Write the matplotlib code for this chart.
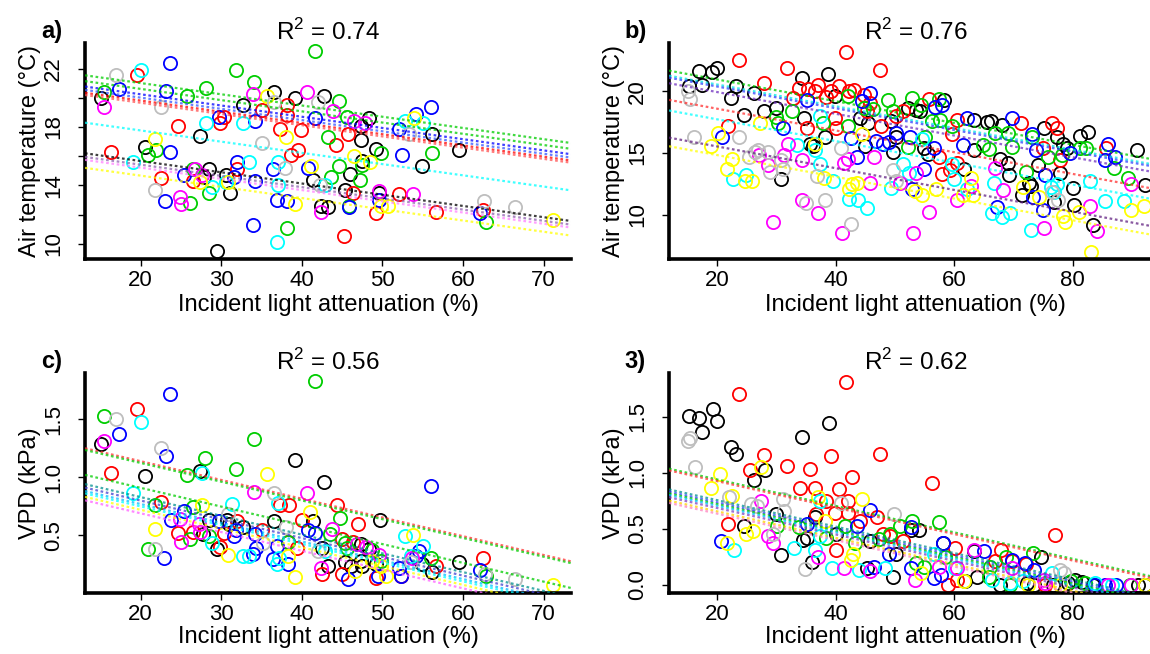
import matplotlib
matplotlib.use("Agg")
import matplotlib.pyplot as plt

plt.rcParams["font.family"] = ["Liberation Sans", "DejaVu Sans"]
plt.rcParams["mathtext.fontset"] = "custom"
plt.rcParams["mathtext.rm"] = "Liberation Sans"

# site colours (R classic palette)
cols = {
    "black": "#000000", "red": "#FF0000", "green": "#00CD00", "blue": "#0000FF",
    "cyan": "#00FFFF", "magenta": "#FF00FF", "yellow": "#FFFF00", "gray": "#BEBEBE",
}

# ---- a) air temperature vs light attenuation, first campaign
a_black = [(15.1, 20.0), (20.6, 16.6), (27.4, 17.4), (28.5, 15.1), (27.9, 14.6), (29.5, 9.5), (30.6, 14.7),
           (31.1, 13.5), (32.7, 19.5), (36.6, 20.4), (39.2, 20.0), (41.4, 14.4), (42.8, 20.1), (42.4, 12.6),
           (43.3, 12.5), (45.3, 13.7), (46.0, 14.8), (47.3, 18.1), (47.4, 17.1), (47.5, 15.7), (48.3, 18.6),
           (49.2, 16.5), (49.6, 13.5), (54.9, 15.3), (56.2, 17.5), (59.5, 16.4)]
a_red = [(16.3, 16.3), (19.5, 21.6), (24.6, 18.1), (22.5, 14.5), (26.5, 14.3), (29.8, 18.3), (30.3, 18.7),
         (32.0, 15.1), (35.1, 19.2), (37.3, 17.9), (38.2, 19.5), (38.2, 18.8), (38.6, 16.1), (39.5, 16.4),
         (39.9, 17.8), (44.3, 16.8), (45.7, 17.5), (46.3, 13.5), (45.2, 10.5), (49.2, 12.1), (52.1, 13.4),
         (56.7, 12.2), (62.5, 12.3)]
a_green = [(15.5, 20.4), (20.9, 16.1), (21.9, 16.4), (25.8, 20.1), (26.1, 12.8), (26.5, 15.1), (28.1, 20.7),
           (28.5, 13.5), (31.8, 21.9), (34.1, 21.1), (38.2, 11.1), (41.6, 23.2), (43.3, 17.3), (43.6, 14.6),
           (44.6, 19.8), (44.6, 15.3), (45.6, 18.7), (45.8, 12.6), (47.2, 14.4), (47.5, 15.4), (49.8, 16.2),
           (56.2, 16.2), (62.9, 11.5)]
a_blue = [(17.3, 20.6), (23.2, 20.5), (23.7, 22.4), (23.7, 16.3), (23.0, 12.9), (25.4, 14.7), (29.7, 18.7),
          (31.6, 14.6), (32.0, 15.6), (34.2, 18.4), (34.2, 14.3), (34.0, 11.3), (36.4, 15.1), (36.9, 13.0),
          (38.2, 12.9), (40.8, 15.2), (41.7, 18.6), (45.8, 12.5), (52.0, 17.9), (52.4, 16.1), (54.2, 18.9),
          (56.0, 19.4), (62.1, 12.1), (49.6, 13.0)]
a_cyan = [(20.0, 21.9), (19.1, 15.6), (28.1, 18.3), (28.8, 13.9), (32.7, 18.3), (33.4, 15.6), (37.0, 15.6),
          (37.0, 14.0), (36.9, 10.1), (42.9, 14.0), (52.8, 18.4), (55.1, 18.3), (30.6, 14.2)]
a_magenta = [(15.5, 19.4), (24.9, 13.2), (25.0, 12.7), (26.8, 15.1), (27.6, 14.7), (34.0, 20.3), (40.6, 20.4),
             (43.9, 19.1), (42.4, 12.2), (46.5, 18.4), (47.9, 18.3), (49.6, 13.6), (53.8, 13.4)]
a_yellow = [(21.8, 17.2), (27.4, 14.2), (30.9, 14.2), (35.7, 20.1), (38.1, 17.3), (39.2, 12.7), (41.2, 15.3),
            (46.5, 16.0), (48.5, 15.6), (49.8, 12.6), (50.7, 12.6), (53.9, 18.6), (71.2, 11.6)]
a_gray = [(17.0, 21.6), (22.5, 19.4), (21.8, 13.7), (35.1, 16.9), (36.6, 19.7), (37.9, 15.2), (42.0, 19.7),
          (42.3, 14.0), (53.3, 17.5), (62.6, 12.9), (66.4, 12.5)]
# fitted lines: colour, value at left edge of x range
a_lines = [("#00CD00", 21.55), ("#00CD00", 21.15), ("#0000FF", 20.78), ("#3355FF", 20.55), ("#FF0000", 20.35),
           ("#FF5050", 20.2), ("#00FFFF", 18.3), ("#000000", 16.2), ("#9060B0", 15.95), ("#FF80FF", 15.75),
           ("#FFFF00", 15.2)]
a_slope = -0.077

# ---- b) air temperature, second campaign
b_black = [(15.2, 20.46), (16.9, 21.6), (17.3, 20.5), (19.1, 21.55), (19.9, 21.9), (22.2, 19.46), (23.1, 20.46),
           (24.4, 18.07), (26.2, 19.87), (27.9, 18.4), (29.9, 18.66), (30.8, 12.9), (34.2, 21.1), (34.6, 17.8),
           (35.7, 15.76), (36.2, 15.6), (38.7, 21.4), (38.2, 16.25), (39.9, 19.6), (44.0, 17.8), (45.0, 15.6),
           (45.5, 17.45), (49.4, 17.6), (50.1, 16.25), (49.7, 15.04), (52.2, 18.66), (53.6, 18.5), (54.3, 18.4),
           (55.5, 14.9), (54.9, 15.4), (58.2, 19.25), (61.7, 13.7), (63.3, 15.2), (63.4, 17.7), (65.6, 17.5),
           (66.2, 17.6), (67.7, 14.5), (68.0, 17.3), (69.1, 14.2), (69.2, 13.2), (71.4, 11.55), (72.7, 12.6),
           (73.0, 12.35), (74.1, 14.0), (75.2, 17.0), (76.8, 11.0), (77.4, 16.25), (77.9, 13.4), (78.4, 15.7),
           (79.0, 15.4), (80.1, 12.17), (80.3, 10.8), (81.3, 16.4), (82.6, 16.7), (83.4, 9.14), (90.9, 15.2),
           (92.3, 12.36)]
b_red = [(21.8, 17.2), (23.6, 22.5), (27.9, 20.7), (31.8, 21.9), (32.7, 19.46), (33.8, 20.3), (35.1, 17.0),
         (35.3, 20.2), (36.5, 20.0), (37.0, 20.5), (38.4, 19.5), (39.2, 20.05), (39.8, 17.8), (40.1, 17.0),
         (40.6, 20.4), (41.7, 23.2), (42.3, 20.05), (43.0, 20.1), (44.7, 19.7), (45.2, 18.4), (45.8, 19.06),
         (47.5, 21.7), (47.7, 17.2), (50.2, 18.0), (51.4, 18.4), (55.8, 19.4), (57.4, 14.7), (58.0, 13.3),
         (59.3, 13.6), (59.6, 16.5), (60.4, 17.7), (60.4, 14.2), (71.3, 17.4), (75.0, 15.4), (76.5, 17.4),
         (77.4, 17.0), (77.9, 14.4), (85.6, 15.4)]
b_green = [(29.9, 17.9), (30.2, 17.4), (32.6, 18.4), (37.8, 17.4), (42.0, 19.6), (42.0, 17.2), (44.7, 18.66),
           (46.3, 18.6), (48.8, 19.25), (49.6, 18.4), (52.2, 15.5), (52.9, 19.46), (54.4, 18.9), (55.0, 16.3),
           (56.2, 17.6), (57.4, 19.4), (57.6, 17.7), (59.6, 17.2), (64.8, 15.65), (65.9, 15.3), (66.9, 16.65),
           (69.1, 16.65), (69.7, 15.5), (72.2, 13.43), (73.1, 16.3), (75.8, 14.7), (78.2, 14.8), (81.3, 15.4),
           (82.3, 15.4), (87.0, 13.75), (89.3, 13.0)]
b_blue = [(20.8, 16.25), (31.0, 17.0), (35.2, 19.25), (42.5, 16.2), (43.6, 14.7), (44.5, 19.2), (45.8, 19.87),
          (46.7, 16.0), (48.0, 15.7), (48.9, 15.85), (50.2, 16.65), (52.6, 16.25), (52.9, 12.1), (54.9, 13.7),
          (56.5, 15.4), (56.8, 18.7), (58.0, 18.9), (61.5, 15.65), (62.1, 17.85), (67.3, 10.6), (69.7, 17.8),
          (73.1, 16.5), (73.8, 15.2), (75.3, 13.24), (75.0, 10.35), (79.6, 14.96), (85.4, 14.4), (86.0, 15.7),
          (87.2, 14.7), (73.3, 11.4)]
b_cyan = [(22.7, 12.9), (24.9, 13.24), (33.5, 15.65), (36.4, 15.2), (37.3, 18.0), (37.3, 14.1), (39.5, 12.76),
          (42.3, 11.23), (43.8, 11.15), (45.2, 10.56), (49.4, 12.17), (51.4, 14.1), (52.4, 13.35), (54.6, 16.1),
          (59.9, 12.9), (62.1, 12.1), (66.4, 10.13), (66.7, 12.6), (68.1, 9.8), (69.4, 10.13), (72.9, 8.74),
          (76.3, 12.2), (77.4, 12.5), (82.9, 12.76), (85.4, 11.1), (88.7, 11.1), (76.8, 11.8), (59.7, 14.1)]
b_magenta = [(31.9, 15.76), (31.2, 14.85), (34.2, 11.2), (34.3, 14.4), (37.0, 10.13), (29.3, 9.4), (27.0, 14.8),
             (28.6, 14.0), (41.4, 14.15), (41.1, 8.47), (42.0, 14.5), (45.8, 12.6), (46.4, 14.7), (50.8, 12.55),
             (53.0, 8.47), (53.6, 13.35), (55.8, 10.2), (60.4, 11.2), (62.8, 12.3), (66.9, 13.8), (68.3, 12.0),
             (75.2, 8.95), (82.9, 10.7), (84.2, 8.7), (89.8, 12.5)]
b_yellow = [(20.1, 16.65), (18.9, 15.6), (21.6, 13.7), (22.4, 14.5), (24.7, 12.76), (25.8, 12.76), (27.2, 17.4),
            (36.4, 15.7), (38.0, 13.0), (42.3, 12.1), (42.8, 12.5), (43.6, 12.6), (44.5, 16.5), (53.3, 11.95),
            (54.5, 11.6), (57.0, 12.1), (61.5, 11.6), (63.1, 11.55), (62.9, 13.0), (71.6, 12.2), (74.3, 11.4),
            (78.4, 9.87), (78.7, 9.4), (81.0, 10.2), (83.1, 6.94), (89.8, 10.4), (92.0, 10.67)]
b_gray = [(15.1, 20.0), (15.3, 19.33), (16.1, 16.25), (23.6, 16.25), (25.3, 14.7), (26.3, 15.1), (26.9, 15.2),
          (28.5, 15.1), (28.8, 13.43), (30.7, 14.4), (31.0, 13.7), (35.0, 10.9), (36.8, 13.1), (38.2, 11.2),
          (40.8, 15.4), (42.6, 9.2), (49.6, 13.6), (50.1, 12.7), (76.6, 11.8), (77.5, 11.2)]
b_lines = [("#00CD00", 21.67), ("#00E5E5", 21.26), ("#3040FF", 21.1), ("#7030C0", 20.65), ("#FF3030", 19.3),
           ("#00FFFF", 18.44), ("#602080", 16.24), ("#FFFF00", 15.54)]
b_slope = -0.088

# ---- c) vapour pressure deficit, first campaign
c_black = [(15.1, 1.29), (20.6, 1.01), (27.4, 1.05), (27.8, 0.51), (28.5, 0.63), (29.5, 0.38), (30.7, 0.63),
           (31.0, 0.60), (32.7, 0.57), (36.6, 0.62), (39.2, 1.15), (41.4, 0.62), (42.8, 0.96), (42.5, 0.39),
           (43.3, 0.23), (45.3, 0.27), (46.1, 0.23), (47.3, 0.42), (47.4, 0.28), (47.5, 0.23), (48.3, 0.38),
           (49.2, 0.25), (49.7, 0.63), (54.9, 0.25), (56.2, 0.18), (59.5, 0.27)]
c_red = [(16.3, 1.04), (19.5, 1.59), (22.5, 0.79), (24.6, 0.52), (26.5, 0.53), (29.8, 0.40), (30.3, 0.52),
         (32.0, 0.62), (35.1, 0.54), (37.3, 0.76), (38.4, 0.76), (38.3, 0.44), (39.4, 0.39), (40.0, 0.63),
         (42.5, 0.16), (44.4, 0.76), (45.0, 0.47), (47.0, 0.60), (45.0, 0.16), (49.2, 0.13), (52.3, 0.15),
         (56.7, 0.23), (62.5, 0.30), (46.3, 0.44)]
c_green = [(15.5, 1.53), (20.9, 0.38), (21.8, 0.76), (25.8, 1.02), (26.1, 0.47), (26.5, 0.74), (28.0, 1.17),
           (28.5, 0.49), (31.8, 1.07), (34.1, 1.33), (38.3, 0.44), (41.6, 1.83), (43.5, 0.51), (44.7, 0.65),
           (45.3, 0.43), (45.6, 0.39), (48.7, 0.37), (49.8, 0.28), (56.0, 0.30), (62.9, 0.15)]
c_blue = [(17.3, 1.37), (23.2, 1.18), (23.7, 1.72), (23.8, 0.63), (22.9, 0.30), (25.4, 0.71), (29.7, 0.62),
          (31.6, 0.49), (31.8, 0.54), (34.2, 0.51), (34.3, 0.39), (34.0, 0.34), (36.4, 0.29), (36.9, 0.41),
          (38.3, 0.25), (40.8, 0.54), (41.7, 0.52), (45.7, 0.12), (52.1, 0.22), (52.3, 0.15), (54.2, 0.32),
          (54.5, 0.36), (56.0, 0.92), (62.1, 0.20), (49.5, 0.15)]
c_cyan = [(20.0, 1.48), (19.1, 0.86), (27.6, 1.04), (28.8, 0.43), (31.3, 0.77), (32.7, 0.32), (33.5, 0.32),
          (37.0, 0.78), (36.9, 0.25), (37.2, 0.30), (42.9, 0.36), (52.8, 0.49), (55.1, 0.41), (53.5, 0.32)]
c_magenta = [(15.5, 1.31), (24.9, 0.64), (25.0, 0.44), (27.2, 0.60), (27.4, 0.53), (34.1, 0.87), (40.6, 0.86),
             (43.8, 0.55), (42.4, 0.22), (46.8, 0.42), (48.0, 0.40), (53.7, 0.30), (49.6, 0.33)]
c_yellow = [(21.8, 0.55), (27.6, 0.76), (30.9, 0.33), (35.7, 1.03), (38.3, 0.32), (39.2, 0.14), (41.0, 0.70),
            (46.6, 0.19), (48.7, 0.28), (50.5, 0.15), (53.8, 0.50), (71.2, 0.07), (49.8, 0.23)]
c_gray = [(17.0, 1.50), (22.5, 1.25), (21.8, 0.38), (35.2, 0.43), (36.6, 0.86), (38.1, 0.57), (42.0, 0.36),
          (53.5, 0.27), (62.7, 0.16), (66.4, 0.12), (30.9, 0.68)]
c_lines = [("#FF3030", 1.25), ("#00CD00", 1.235), ("#00CD00", 1.02), ("#009090", 0.94), ("#4040D0", 0.91),
           ("#00BFFF", 0.88), ("#00FFFF", 0.86), ("#FFFF00", 0.83), ("#FF60FF", 0.80)]
c_slope = -0.0162

# ---- d) vapour pressure deficit, second campaign
d_black = [(15.2, 1.51), (16.9, 1.49), (17.3, 1.36), (19.2, 1.57), (19.9, 1.46), (22.2, 1.23), (23.1, 1.17),
           (24.4, 0.52), (26.2, 0.93), (28.0, 1.02), (29.9, 0.63), (30.8, 0.26), (34.2, 1.32), (34.5, 0.40),
           (35.1, 0.42), (36.0, 0.20), (36.4, 0.60), (38.9, 1.44), (40.1, 0.45), (45.3, 0.15), (45.8, 0.39),
           (49.6, 0.07), (50.1, 0.27), (52.7, 0.49), (54.1, 0.49), (58.1, 0.37), (61.9, 0.03), (63.3, 0.30),
           (63.8, 0.07), (67.8, 0.0), (74.7, 0.25), (80.4, 0.04), (81.6, 0.02), (83.5, 0.0), (91.1, 0.0),
           (92.3, 0.0), (79.2, 0.01), (76.7, 0.0), (72.3, 0.01), (73.5, 0.0)]
d_red = [(21.8, 0.54), (23.6, 1.70), (25.5, 1.02), (27.9, 1.16), (31.8, 1.06), (33.9, 0.86), (35.6, 1.03),
         (36.4, 0.86), (36.7, 0.63), (38.4, 0.75), (39.2, 1.15), (39.9, 0.64), (40.6, 0.85), (40.0, 0.31),
         (41.7, 1.81), (42.0, 0.75), (42.0, 0.64), (42.8, 0.96), (44.0, 0.57), (47.0, 0.60), (47.5, 1.17),
         (48.0, 0.45), (49.2, 0.43), (51.4, 0.39), (56.3, 0.91), (58.9, 0.0), (60.2, 0.33), (60.5, 0.04),
         (67.9, 0.31), (69.7, 0.21), (72.2, 0.18), (77.1, 0.44), (75.4, 0.0), (66.9, 0.21)]
d_green = [(30.1, 0.52), (33.8, 0.51), (38.4, 0.42), (41.6, 0.52), (43.3, 0.37), (47.3, 0.41), (49.2, 0.45),
           (50.8, 0.52), (52.9, 0.57), (53.6, 0.19), (54.9, 0.16), (57.4, 0.56), (58.4, 0.25), (66.0, 0.16),
           (68.8, 0.25), (73.3, 0.28), (79.7, 0.03), (82.1, 0.01), (89.7, 0.0), (69.4, 0.0), (65.9, 0.07)]
d_blue = [(20.6, 0.39), (35.1, 0.54), (43.6, 0.52), (45.7, 0.67), (46.4, 0.16), (48.9, 0.27), (52.7, 0.51),
          (52.7, 0.15), (56.5, 0.06), (57.7, 0.09), (58.1, 0.37), (65.0, 0.30), (69.7, 0.22), (71.9, 0.19),
          (73.5, 0.13), (83.8, 0.0), (85.4, 0.0), (87.3, 0.0)]
d_cyan = [(22.8, 0.31), (33.0, 0.33), (37.3, 0.75), (37.3, 0.43), (36.5, 0.31), (39.4, 0.15), (43.9, 0.13),
          (48.3, 0.15), (56.5, 0.27), (60.2, 0.15), (66.4, 0.04), (69.4, 0.01), (71.6, 0.03), (76.6, 0.10),
          (83.8, 0.01), (86.7, 0.0)]
d_magenta = [(27.4, 0.75), (28.5, 0.43), (29.4, 0.37), (37.0, 0.25), (41.4, 0.15), (45.8, 0.12), (53.3, 0.04),
             (57.4, 0.16), (63.4, 0.31), (69.7, 0.15), (75.2, 0.04), (86.0, 0.0), (89.8, 0.0), (75.3, 0.01),
             (60.5, 0.15)]
d_yellow = [(18.9, 0.86), (20.5, 0.99), (21.6, 0.37), (22.4, 0.79), (24.9, 0.45), (26.0, 0.48), (27.4, 1.05),
            (36.9, 0.78), (38.2, 0.57), (42.5, 0.22), (42.9, 0.27), (44.5, 0.76), (54.4, 0.10), (61.6, 0.03),
            (72.5, 0.0), (77.9, 0.0), (92.3, 0.0)]
d_gray = [(15.0, 1.28), (15.3, 1.31), (16.2, 1.05), (21.9, 0.78), (25.7, 0.72), (26.6, 0.70), (29.4, 0.45),
          (31.0, 0.76), (31.3, 0.66), (34.8, 0.14), (40.8, 0.73), (49.9, 0.63), (77.9, 0.13), (78.5, 0.10)]
d_lines = [("#00CD00", 1.035), ("#FF3030", 1.02), ("#009090", 0.85), ("#3040FF", 0.83), ("#00CD00", 0.815),
           ("#00BFFF", 0.80), ("#8040C0", 0.78), ("#FFD000", 0.75), ("#FF80C0", 0.73)]
d_slope = -0.0118

xlim_a = (13.1, 73.4)
xlim_b = (11.8, 95.1)


def draw(ax, groups, lines, slope, xlim, ylim, xticks, yticks, ylabels, ylab, r2, tag):
    for name, pts in groups:
        xs = [p[0] for p in pts]
        ys = [p[1] for p in pts]
        ax.plot(xs, ys, "o", ms=9.5, mfc="none", mec=cols[name], mew=1.3, ls="none")
    for c, y0 in lines:
        ax.plot(xlim, [y0, y0 + slope * (xlim[1] - xlim[0])], color=c, ls=(0, (1.2, 1.2)),
                lw=1.6, alpha=0.75, zorder=3)
    ax.set_xlim(*xlim)
    ax.set_ylim(*ylim)
    ax.set_xticks(xticks)
    ax.set_yticks(yticks)
    ax.set_yticklabels(ylabels, rotation=90, va="center")
    ax.spines[["top", "right"]].set_visible(False)
    for s in ["left", "bottom"]:
        ax.spines[s].set_linewidth(2.6)
    ax.tick_params(direction="out", length=5, width=1, labelsize=16)
    ax.tick_params(axis="x", pad=3)
    ax.tick_params(axis="y", pad=10)
    ax.set_xlabel("Incident light attenuation (%)", fontsize=17, va="center")
    ax.set_ylabel(ylab, fontsize=17, va="center")
    ax.text(0.5, 1.05, "R$^{2}$ = " + r2, transform=ax.transAxes, ha="center", va="center", fontsize=17.5)
    ax.text(-0.068, 1.05, tag, transform=ax.transAxes, ha="center", va="center", fontsize=17,
            fontweight="bold")


fig = plt.figure(figsize=(11.5, 6.54), dpi=100)
ax_a = fig.add_axes([0.0739, 0.604, 0.4226, 0.331])
ax_b = fig.add_axes([0.5817, 0.604, 0.4287, 0.331])
ax_c = fig.add_axes([0.0739, 0.0933, 0.4226, 0.3364])
ax_d = fig.add_axes([0.5817, 0.0933, 0.4287, 0.3364])

order = ["black", "red", "green", "blue", "cyan", "magenta", "yellow", "gray"]

draw(ax_a, list(zip(order, [a_black, a_red, a_green, a_blue, a_cyan, a_magenta, a_yellow, a_gray])),
     a_lines, a_slope, xlim_a, (8.95, 23.8), [20, 30, 40, 50, 60, 70], [10, 12, 14, 16, 18, 20, 22],
     ["10", "", "14", "", "18", "", "22"], "Air temperature (°C)", "0.74", "a)")
draw(ax_b, list(zip(order, [b_black, b_red, b_green, b_blue, b_cyan, b_magenta, b_yellow, b_gray])),
     b_lines, b_slope, xlim_b, (6.4, 23.95), [20, 40, 60, 80], [10, 15, 20],
     ["10", "15", "20"], "Air temperature (°C)", "0.76", "b)")
draw(ax_c, list(zip(order, [c_black, c_red, c_green, c_blue, c_cyan, c_magenta, c_yellow, c_gray])),
     c_lines, c_slope, xlim_a, (0.0, 1.9), [20, 30, 40, 50, 60, 70], [0.5, 1.0, 1.5],
     ["0.5", "1.0", "1.5"], "VPD (kPa)", "0.56", "c)")
draw(ax_d, list(zip(order, [d_black, d_red, d_green, d_blue, d_cyan, d_magenta, d_yellow, d_gray])),
     d_lines, d_slope, xlim_b, (-0.075, 1.89), [20, 40, 60, 80], [0.0, 0.5, 1.0, 1.5],
     ["0.0", "0.5", "1.0", "1.5"], "VPD (kPa)", "0.62", "3)")

# label positions: pixel offsets from the axis lines
for ax in [ax_a, ax_b]:
    ax.xaxis.set_label_coords(0.5, -46 / 216.5)
for ax in [ax_c, ax_d]:
    ax.xaxis.set_label_coords(0.5, -44 / 220)
ax_a.yaxis.set_label_coords(-55 / 486, 0.5)
ax_c.yaxis.set_label_coords(-55 / 486, 0.5)
ax_b.yaxis.set_label_coords(-55 / 493, 0.5)
ax_d.yaxis.set_label_coords(-55 / 493, 0.5)

fig.savefig("out.png", dpi=100)
